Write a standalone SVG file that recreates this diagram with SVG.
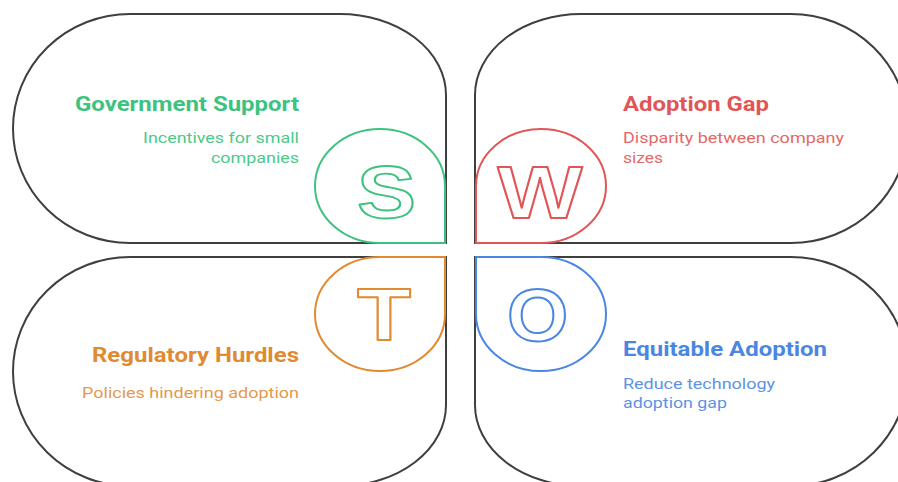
<svg xmlns="http://www.w3.org/2000/svg" width="898" height="482" viewBox="0 0 898 482">
<style>
.card{fill:#fff;stroke:#3f3f3f;stroke-width:2}
.badge{fill:#fff;stroke-width:2}
.ltr{font-family:"Liberation Sans",Arial,sans-serif;font-weight:700;font-size:75px;fill:none;stroke-width:2;stroke-linejoin:round;text-anchor:middle}
.ltr text{vector-effect:non-scaling-stroke}
.t{font-family:Roboto,"Liberation Sans",sans-serif;font-weight:700;font-size:20px}
.s{font-family:Roboto,"Liberation Sans",sans-serif;font-weight:400;font-size:15px}
.g{fill:#3dc27f}.gs{fill:#4cc98a}
.r{fill:#e05656}.rs{fill:#e56868}
.o{fill:#e08a32}.os{fill:#e5984c}
.b{fill:#4a86e2}.bs{fill:#5c93e6}
</style>
<g id="connectors"/>
<g id="strengths">
<path class="card" d="M130,14 H340 A106 81 0 0 1 446,95 V243 H130 A117 114.5 0 0 1 130,14 Z"/>
<path class="badge" stroke="#3dc27f" d="M445,186 A65 57 0 1 0 380,243 H445 Z"/>
<g class="ltr" stroke="#3dc27f"><text transform="translate(386.5,218) scale(1.18,1)">S</text></g>
<text class="t g" x="75" y="111" textLength="224" lengthAdjust="spacingAndGlyphs">Government Support</text>
<text class="s gs" x="143" y="143" textLength="156" lengthAdjust="spacingAndGlyphs">Incentives for small</text>
<text class="s gs" x="211" y="163" textLength="88" lengthAdjust="spacingAndGlyphs">companies</text>
</g>
<g id="weaknesses">
<path class="card" d="M791,14 H581 A106 81 0 0 0 475,95 V243 H791 A117 114.5 0 0 0 791,14 Z"/>
<path class="badge" stroke="#e05656" d="M476,186 A65 57 0 1 1 541,243 H476 Z"/>
<g class="ltr" stroke="#e05656"><text transform="translate(540,218) scale(1.2,1)">W</text></g>
<text class="t r" x="623" y="111" textLength="146" lengthAdjust="spacingAndGlyphs">Adoption Gap</text>
<text class="s rs" x="623" y="143" textLength="221" lengthAdjust="spacingAndGlyphs">Disparity between company</text>
<text class="s rs" x="623" y="163" textLength="40" lengthAdjust="spacingAndGlyphs">sizes</text>
</g>
<g id="threats">
<path class="card" d="M130,486 H340 A106 81 0 0 0 446,405 V257 H130 A117 114.5 0 0 0 130,486 Z"/>
<path class="badge" stroke="#e08a32" d="M445,314 A65 57 0 1 1 380,257 H445 Z"/>
<g class="ltr" stroke="#e08a32"><text transform="translate(384,340) scale(1.18,1)">T</text></g>
<text class="t o" x="92" y="362" textLength="207" lengthAdjust="spacingAndGlyphs">Regulatory Hurdles</text>
<text class="s os" x="82" y="398" textLength="217" lengthAdjust="spacingAndGlyphs">Policies hindering adoption</text>
</g>
<g id="opportunities">
<path class="card" d="M791,486 H581 A106 81 0 0 1 475,405 V257 H791 A117 114.5 0 0 1 791,486 Z"/>
<path class="badge" stroke="#4a86e2" d="M476,314 A65 57 0 1 0 541,257 H476 Z"/>
<g class="ltr" stroke="#4a86e2"><text transform="translate(537.5,341) scale(1.05,1)">O</text></g>
<text class="t b" x="623" y="356" textLength="204" lengthAdjust="spacingAndGlyphs">Equitable Adoption</text>
<text class="s bs" x="623" y="389" textLength="152" lengthAdjust="spacingAndGlyphs">Reduce technology</text>
<text class="s bs" x="623" y="408" textLength="104" lengthAdjust="spacingAndGlyphs">adoption gap</text>
</g>
</svg>
